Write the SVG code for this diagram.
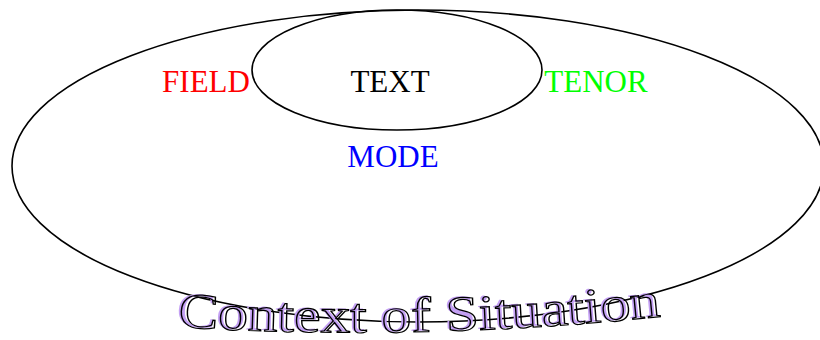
<svg xmlns="http://www.w3.org/2000/svg" width="820" height="340" viewBox="0 0 820 340">
<style>
.outline{fill:none;stroke:#000;stroke-width:1.6}
.lbl{font-family:"Liberation Serif","Times New Roman",serif;font-size:31px;text-anchor:middle}
.ctx{font-family:"Liberation Serif","Times New Roman",serif;font-size:50px}
</style>
<defs>
<path id="arc" d="M 178 327 Q 420 342 668 316"/>
</defs>
<rect width="820" height="340" fill="#fff"/>
<g id="context">
<ellipse class="outline" cx="418" cy="166" rx="406" ry="156"/>
</g>
<g id="text-node">
<ellipse class="outline" cx="397" cy="70" rx="145" ry="60"/>
<text class="lbl" x="390" y="92" fill="#000">TEXT</text>
</g>
<g id="field"><text class="lbl" x="206" y="92" fill="#ff0000">FIELD</text></g>
<g id="tenor"><text class="lbl" x="596" y="92" fill="#00ff00">TENOR</text></g>
<g id="mode"><text class="lbl" x="393" y="167" fill="#0000ff">MODE</text></g>
<g id="connectors"></g>
<g id="context-label">
<text class="ctx" fill="#c4a0f4" transform="translate(-2.5,-1)"><textPath href="#arc" textLength="484" lengthAdjust="spacingAndGlyphs">Context of Situation</textPath></text>
<text class="ctx" fill="none" stroke="#000" stroke-width="1.2"><textPath href="#arc" textLength="484" lengthAdjust="spacingAndGlyphs">Context of Situation</textPath></text>
</g>
</svg>
